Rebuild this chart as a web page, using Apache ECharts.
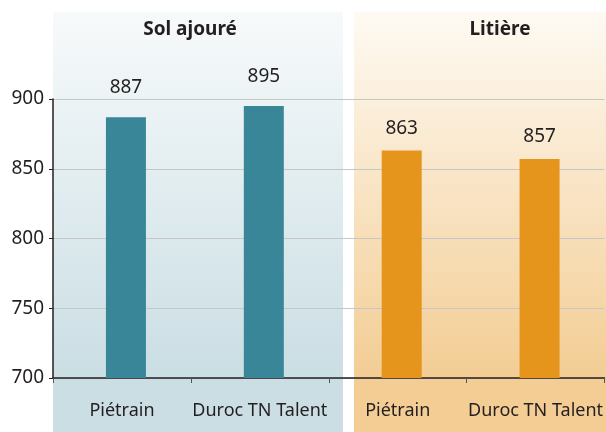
<!DOCTYPE html>
<html>
<head>
<meta charset="utf-8">
<script src="https://cdn.jsdelivr.net/npm/echarts@6/dist/echarts.min.js"></script>
<style>
  html, body { margin: 0; padding: 0; background: #fff; }
  #chart { width: 606px; height: 432px; }
</style>
</head>
<body>
<div id="chart"></div>
<script>
// données
const categories = ['Piétrain', 'Duroc TN Talent', 'Piétrain', 'Duroc TN Talent'];
const valeurs = [887, 895, 863, 857];
const groupeIndex = [0, 0, 1, 1];
const groupes = ['Sol ajouré', 'Litière'];
const yTicks = { min: 700, max: 900, interval: 50 };

const police = '"Noto Sans", sans-serif';
const couleurs = ['#3a8699', '#e5951b'];
const distances = [20, 13];

var myChart = echarts.init(document.getElementById('chart'), null, { renderer: 'canvas' });

// une seule série, couleur selon le groupe
let donnees = valeurs.map((v, i) => ({
  value: v,
  itemStyle: { color: couleurs[groupeIndex[i]] },
  label: { distance: distances[groupeIndex[i]] }
}));

var option = {
  animation: false,
  backgroundColor: '#fff',
  title: [
    { text: groupes[0], left: 185, top: 15, textAlign: 'center',
      textStyle: { fontFamily: police, fontSize: 19, fontWeight: 'bold', color: '#231f20' } },
    { text: groupes[1], left: 495, top: 15, textAlign: 'center',
      textStyle: { fontFamily: police, fontSize: 19, fontWeight: 'bold', color: '#231f20' } }
  ],
  graphic: [
    {
      type: 'rect', z: -10, silent: true,
      shape: { x: 53, y: 12, width: 290, height: 420 },
      style: {
        fill: new echarts.graphic.LinearGradient(0, 0, 0, 1, [
          { offset: 0, color: '#f7fafb' },
          { offset: 0.87, color: '#cadee4' },
          { offset: 1, color: '#cadee4' }
        ])
      }
    },
    {
      type: 'rect', z: -10, silent: true,
      shape: { x: 354, y: 12, width: 252, height: 420 },
      style: {
        fill: new echarts.graphic.LinearGradient(0, 0, 0, 1, [
          { offset: 0, color: '#fefaf3' },
          { offset: 0.87, color: '#f3cd94' },
          { offset: 1, color: '#f3cd94' }
        ])
      }
    }
  ],
  grid: { left: 53, right: 1, top: 99, bottom: 54 },
  xAxis: {
    type: 'category',
    data: categories,
    axisLine: { lineStyle: { color: '#231f20', width: 1.5 } },
    axisTick: { show: true, length: 5, lineStyle: { color: '#555' } },
    axisLabel: { fontFamily: police, fontSize: 18, color: '#231f20', margin: 24, interval: 0 }
  },
  yAxis: {
    type: 'value',
    min: yTicks.min, max: yTicks.max, interval: yTicks.interval,
    axisLine: { show: true, lineStyle: { color: '#231f20', width: 1.5 } },
    axisTick: { show: true, length: 4, lineStyle: { color: '#231f20' } },
    axisLabel: { fontFamily: police, fontSize: 19, color: '#231f20', margin: 9 },
    splitLine: { lineStyle: { color: '#c6c6c6', width: 1.2 } }
  },
  series: [
    {
      // série vide pour décaler les barres de 4 px vers la droite
      type: 'bar', data: [], barWidth: 8, barGap: 0, silent: true
    },
    {
      type: 'bar', data: donnees,
      barWidth: 40, barGap: 0,
      label: { show: true, position: 'top', fontFamily: police, fontSize: 19, color: '#231f20' }
    }
  ]
};
option && myChart.setOption(option);
</script>
</body>
</html>
